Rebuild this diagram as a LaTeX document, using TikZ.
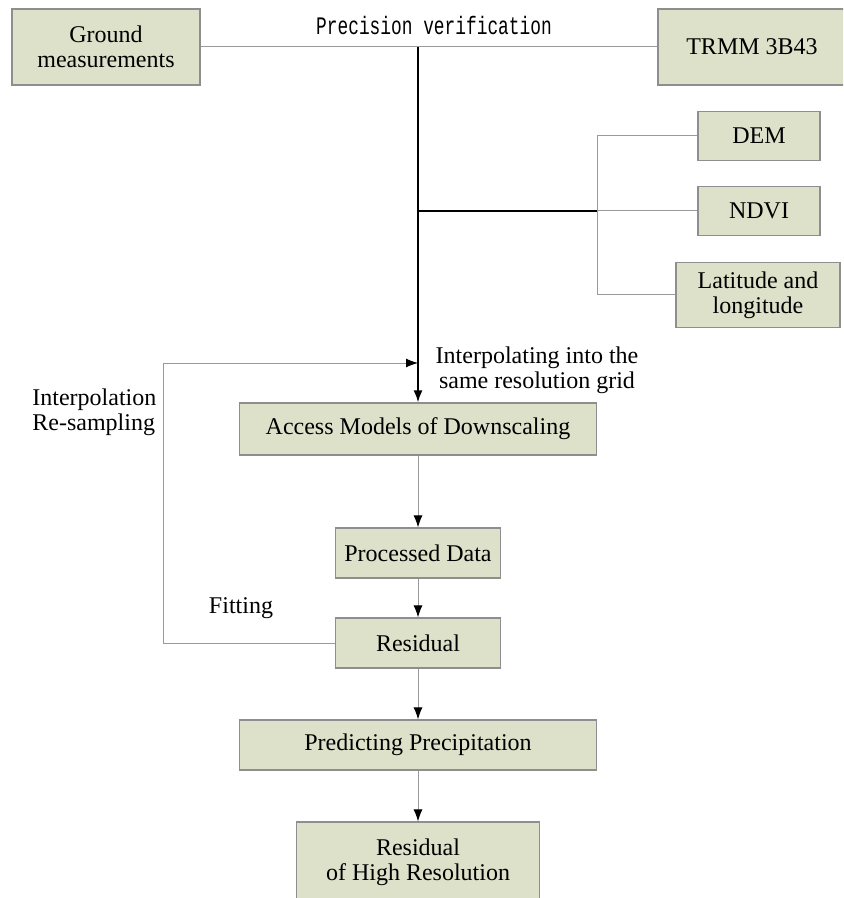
\documentclass[tikz,border=0pt]{standalone}
\usepackage{fontspec}
\setmainfont{Liberation Serif}
\newfontfamily\pvfont{Liberation Mono}
\usepackage{tikz}
\usetikzlibrary{calc}
\usetikzlibrary{arrows.meta}
\usepackage{xcolor}
\definecolor{boxfill}{HTML}{DDE1CA}
\definecolor{boxline}{HTML}{8E8E8E}
\definecolor{linkgray}{HTML}{9A9A9A}

\begin{document}
\begin{tikzpicture}[x=0.5pt, y=-0.5pt,
        font=\fontsize{12}{12.5}\selectfont,
        datbox/.style={rectangle, draw=boxline, fill=boxfill, line width=0.6pt, inner sep=0pt, align=center},
        link/.style={draw=linkgray, line width=0.5pt},
        mainline/.style={draw=black, line width=0.9pt},
        paths/.style={link, -{Latex[length=6pt, width=4.5pt, color=black]}},
        mainpath/.style={mainline, -{Latex[length=6pt, width=4.5pt]}},
        lbl/.style={inner sep=0pt, align=center}
    ]
        \clip (0,0) rectangle (843,898);

        % Nodes
        \node[datbox, minimum width=94pt, minimum height=38pt] (ground) at (106,47) {Ground\\measurements};
        \node[datbox, minimum width=94pt, minimum height=38pt] (trmm) at (752,47) {TRMM 3B43};
        \node[lbl] (precver) at (434,25) {\pvfont\fontsize{10.5}{12}\selectfont\scalebox{0.85}[1.2]{Precision verification}};

        \node[datbox, minimum width=61pt, minimum height=24.5pt] (dem) at (759,136) {DEM};
        \node[datbox, minimum width=61pt, minimum height=24.5pt] (ndvi) at (759,211) {NDVI};
        \node[datbox, minimum width=82pt, minimum height=32.5pt] (latlon) at (758,295) {Latitude and\\longitude};

        \node[datbox, minimum width=178.5pt, minimum height=26pt] (access) at (418,429) {Access Models of Downscaling};
        \node[datbox, minimum width=82.5pt, minimum height=25pt] (proc) at (418,553) {Processed Data};
        \node[datbox, minimum width=82.5pt, minimum height=25pt] (resid) at (418,643) {Residual};
        \node[datbox, minimum width=178.5pt, minimum height=25pt] (predict) at (418,745) {Predicting Precipitation};
        \node[datbox, minimum width=121.5pt, minimum height=40pt] (reshigh) at (418,862) {Residual\\ of High Resolution};

        \node[lbl] (interp) at (537,370) {Interpolating into the\\same resolution grid};
        \node[lbl, anchor=west, align=left] (resamp) at (32,412) {Interpolation\\Re-sampling};
        \node[lbl] (fit) at (241,608) {Fitting};

        \coordinate (pv) at (418,47);
        \coordinate (join) at (418,211);
        \coordinate (fork) at (597,211);
        \coordinate (loopin) at (418,363);
        \coordinate (loopcorner) at (163,643);

        % Paths: inputs
        \draw[link] (ground) -- (trmm);
        \draw[mainpath] (pv) -- (access);
        \draw[mainline] (join) -- (fork);
        \draw[link] (fork) |- (dem.west);
        \draw[link] (fork) -- (ndvi.west);
        \draw[link] (fork) |- (latlon.west);

        % Paths: downscaling steps
        \draw[paths] (access) -- (proc);
        \draw[paths] (proc) -- (resid);
        \draw[paths] (resid) -- (predict);
        \draw[paths] (predict) -- (reshigh);

        % Fitting loop
        \draw[paths] (resid.west) -- (loopcorner) |- (loopin);
\end{tikzpicture}
\end{document}
